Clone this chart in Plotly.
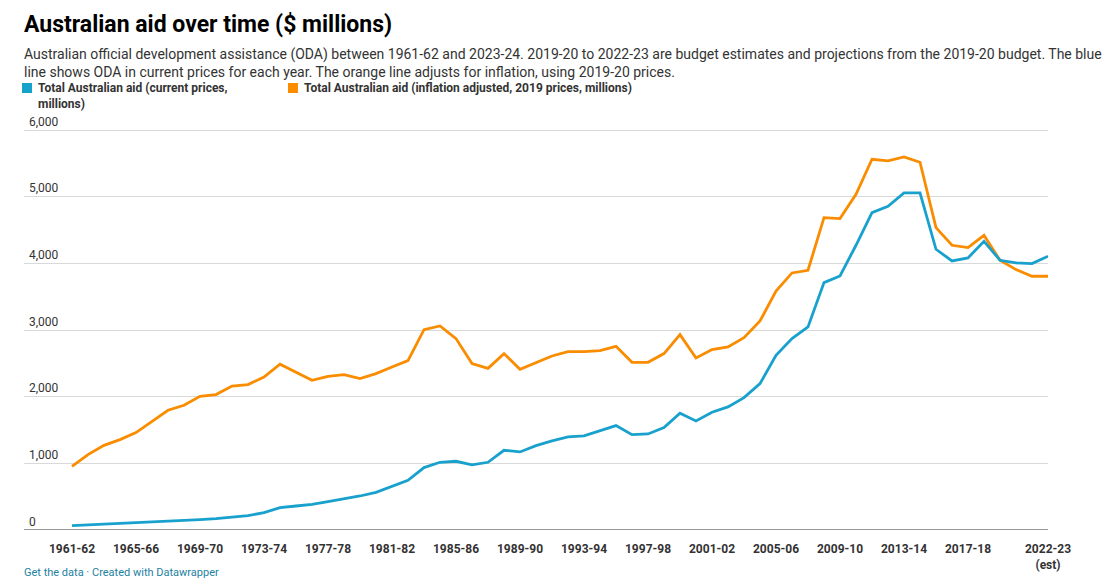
import plotly.graph_objects as go

years = ["1961-62", "1962-63", "1963-64", "1964-65", "1965-66", "1966-67", "1967-68", "1968-69",
         "1969-70", "1970-71", "1971-72", "1972-73", "1973-74", "1974-75", "1975-76", "1976-77",
         "1977-78", "1978-79", "1979-80", "1980-81", "1981-82", "1982-83", "1983-84", "1984-85",
         "1985-86", "1986-87", "1987-88", "1988-89", "1989-90", "1990-91", "1991-92", "1992-93",
         "1993-94", "1994-95", "1995-96", "1996-97", "1997-98", "1998-99", "1999-00", "2000-01",
         "2001-02", "2002-03", "2003-04", "2004-05", "2005-06", "2006-07", "2007-08", "2008-09",
         "2009-10", "2010-11", "2011-12", "2012-13", "2013-14", "2014-15", "2015-16", "2016-17",
         "2017-18", "2018-19", "2019-20", "2020-21", "2021-22", "2022-23"]

current_prices = [65, 75, 85, 95, 105, 120, 130, 140, 155, 170, 190, 215, 260, 335, 360, 385,
                  425, 465, 510, 565, 655, 745, 936, 1016, 1031, 976, 1016, 1196, 1171, 1266,
                  1336, 1396, 1411, 1486, 1566, 1431, 1441, 1536, 1751, 1636, 1766, 1846, 1986,
                  2196, 2621, 2871, 3046, 3711, 3811, 4271, 4761, 4856, 5056, 5056, 4211, 4036,
                  4081, 4331, 4046, 4006, 3996, 4106]

inflation_adjusted = [955, 1131, 1270, 1356, 1461, 1635, 1796, 1871, 2006, 2031, 2160, 2181, 2295,
                      2486, 2361, 2246, 2306, 2331, 2271, 2346, 2445, 2540, 3006, 3060, 2871, 2496,
                      2425, 2646, 2410, 2511, 2610, 2676, 2676, 2691, 2755, 2515, 2515, 2646, 2931,
                      2580, 2706, 2745, 2886, 3135, 3585, 3856, 3896, 4686, 4671, 5036, 5561, 5536,
                      5596, 5516, 4536, 4271, 4236, 4421, 4046, 3906, 3806, 3806]

tick_years = ["1961-62", "1965-66", "1969-70", "1973-74", "1977-78", "1981-82", "1985-86",
              "1989-90", "1993-94", "1997-98", "2001-02", "2005-06", "2009-10", "2013-14",
              "2017-18", "2022-23"]
tick_text = ["1961-62", "1965-66", "1969-70", "1973-74", "1977-78", "1981-82", "1985-86",
             "1989-90", "1993-94", "1997-98", "2001-02", "2005-06", "2009-10", "2013-14",
             "2017-18", "2022-23<br>(est)"]

y_ticks = [0, 1000, 2000, 3000, 4000, 5000, 6000]

BLUE = "#18a1cd"
ORANGE = "#fa8c00"
FONT = "Roboto"

fig = go.Figure()
fig.add_trace(go.Scatter(x=years, y=inflation_adjusted, mode="lines",
                         line=dict(color=ORANGE, width=2.8),
                         name="Total Australian aid (inflation adjusted, 2019 prices, millions)"))
fig.add_trace(go.Scatter(x=years, y=current_prices, mode="lines",
                         line=dict(color=BLUE, width=2.8),
                         name="Total Australian aid (current prices, millions)"))

fig.update_layout(
    width=1116, height=583,
    margin=dict(l=24, r=68, t=110, b=53, autoexpand=False),
    paper_bgcolor="white", plot_bgcolor="white",
    showlegend=False,
    font=dict(family=FONT, color="#333333"),
    xaxis=dict(type="category", range=[-3, 61], tickmode="array", tickvals=tick_years,
               ticktext=tick_text, showgrid=False, zeroline=False, showline=False,
               ticks="", tickfont=dict(family=FONT, size=12, color="#333333", weight="bold"),
               ticklabelstandoff=10, automargin=False),
    yaxis=dict(range=[0, 6300], tickvals=y_ticks, tickformat=",", showgrid=True,
               gridcolor="#d9d9d9", gridwidth=1, zeroline=False, showline=False,
               ticklabelposition="inside top", ticks="", automargin=False,
               ticklabelstandoff=2,
               tickfont=dict(family=FONT, size=12, color="#333333")),
)

fig.add_shape(type="line", xref="paper", yref="y", x0=0, x1=1, y0=0, y1=0,
              line=dict(color="#333333", width=1.2))

fig.add_annotation(text="<b>Australian aid over time ($ millions)</b>", xref="paper", yref="paper",
                   x=0, y=1, xanchor="left", yanchor="middle", yshift=86, xshift=-2, showarrow=False,
                   font=dict(family=FONT, size=23, color="#000000"))
fig.add_annotation(text="Australian official development assistance (ODA) between 1961-62 and 2023-24. 2019-20 to 2022-23 are budget estimates and projections from the 2019-20 budget. The blue<br>line shows ODA in current prices for each year. The orange line adjusts for inflation, using 2019-20 prices.",
                   xref="paper", yref="paper", x=0, y=1, xanchor="left", yanchor="bottom", yshift=28, xshift=-2,
                   showarrow=False, align="left",
                   font=dict(family=FONT, size=14, color="#333333"))

# legend
for x0, col in [(-2, BLUE), (264, ORANGE)]:
    fig.add_shape(type="rect", xref="paper", yref="paper", xsizemode="pixel", ysizemode="pixel",
                  xanchor=0, yanchor=1, x0=x0, x1=x0 + 10, y0=17, y1=27,
                  line=dict(width=0), fillcolor=col)
fig.add_annotation(text="<b>Total Australian aid (current prices,<br>millions)</b>", xref="paper", yref="paper",
                   x=0, y=1, xanchor="left", yanchor="top", xshift=12, yshift=31, showarrow=False, align="left",
                   font=dict(family=FONT, size=12, color="#333333"))
fig.add_annotation(text="<b>Total Australian aid (inflation adjusted, 2019 prices, millions)</b>", xref="paper", yref="paper",
                   x=0, y=1, xanchor="left", yanchor="top", xshift=278, yshift=31, showarrow=False, align="left",
                   font=dict(family=FONT, size=12, color="#333333"))

fig.add_annotation(text="Get the data · Created with Datawrapper", xref="paper", yref="paper",
                   x=0, y=0, xanchor="left", yanchor="middle", yshift=-42, xshift=-2, showarrow=False,
                   font=dict(family=FONT, size=11, color="#1d81a2"))

fig.write_html("out.html", config={"displayModeBar": False},
               post_script="document.body.style.margin='0';")
